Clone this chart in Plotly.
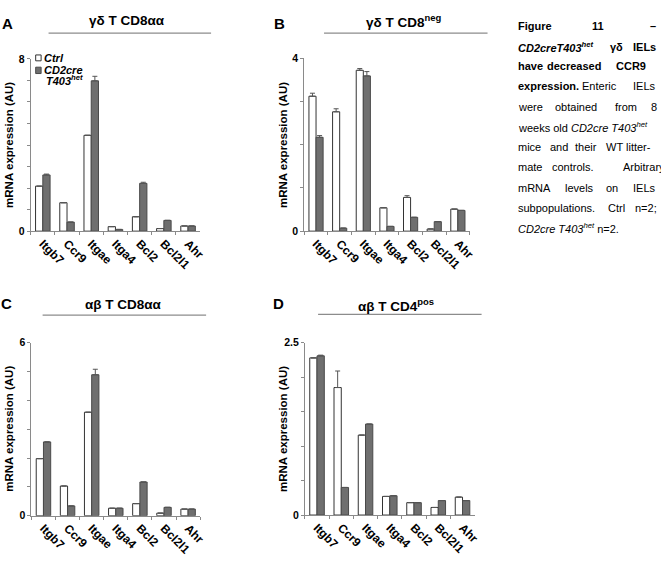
import plotly.graph_objects as go

genes = ["Itgb7", "Ccr9", "Itgae", "Itga4", "Bcl2", "Bcl2l1", "Ahr"]
series_names = ["Ctrl", "CD2cre T403het"]

# Panel A: γδ T CD8αα
A_ctrl = [2.09, 1.32, 4.45, 0.21, 0.67, 0.12, 0.24]
A_cd2 = [2.61, 0.42, 6.98, 0.08, 2.22, 0.50, 0.24]
A_ctrl_err = [0, 0, 0, 0, 0, 0, 0]
A_cd2_err = [0.04, 0, 0.21, 0, 0.05, 0, 0]

# Panel B: γδ T CD8neg
B_ctrl = [3.12, 2.76, 3.72, 0.54, 0.78, 0.05, 0.51]
B_cd2 = [2.17, 0.07, 3.59, 0.11, 0.32, 0.22, 0.48]
B_ctrl_err = [0.07, 0.07, 0.04, 0, 0.04, 0, 0]
B_cd2_err = [0.04, 0, 0.10, 0, 0, 0, 0]

# Panel C: αβ T CD8αα
C_ctrl = [1.98, 1.03, 3.59, 0.26, 0.42, 0.09, 0.23]
C_cd2 = [2.56, 0.34, 4.89, 0.26, 1.17, 0.29, 0.23]
C_ctrl_err = [0, 0, 0, 0, 0, 0, 0]
C_cd2_err = [0, 0, 0.19, 0, 0, 0, 0]

# Panel D: αβ T CD4pos
D_ctrl = [2.28, 1.85, 1.16, 0.27, 0.18, 0.11, 0.26]
D_cd2 = [2.31, 0.40, 1.32, 0.28, 0.18, 0.21, 0.21]
D_ctrl_err = [0, 0.24, 0, 0, 0, 0, 0]
D_cd2_err = [0.01, 0, 0, 0, 0, 0, 0]

panel_letters = ["A", "B", "C", "D"]
panel_titles = ["γδ T CD8αα", "γδ T CD8<sup>neg</sup>", "αβ T CD8αα", "αβ T CD4<sup>pos</sup>"]
y_max = [8, 4, 6, 2.5]
y_step = [1, 1, 1, 0.5]
y_max_label = ["8", "4", "6", "2.5"]
y_title = "mRNA expression (AU)"

W, H = 661, 569
FONT = "Liberation Sans, Arial, sans-serif"

# plot areas in pixels (x0, x1, ytop, ybottom)
areas = [(31, 202, 54, 230), (307, 474, 53.3, 230), (31.7, 202, 344, 520.7), (307.7, 479, 344, 520)]
title_pos = [(128, 15), (407, 15), (125, 305), (400, 305)]
line_pos = [(49, 213, 27.7), (327, 492, 27.7), (43, 208, 315.7), (321, 486, 315)]
letter_pos = [(7.5, 17.5), (282, 17.5), (6.5, 304), (281, 304)]

px = lambda x: x / W
py = lambda y: 1 - y / H

data = [
    (A_ctrl, A_cd2, A_ctrl_err, A_cd2_err),
    (B_ctrl, B_cd2, B_ctrl_err, B_cd2_err),
    (C_ctrl, C_cd2, C_ctrl_err, C_cd2_err),
    (D_ctrl, D_cd2, D_ctrl_err, D_cd2_err),
]

fig = go.Figure()
layout = dict(
    width=W, height=H, margin=dict(l=0, r=0, t=0, b=0),
    paper_bgcolor="white", plot_bgcolor="white",
    showlegend=False, barmode="group", bargap=0.4, bargroupgap=0,
    font=dict(family=FONT, color="black"),
)
annotations = []
shapes = []
axis_col = "#8a8a8a"

for i, (ctrl, cd2, ectrl, ecd2) in enumerate(data):
    n = i + 1
    xa = "x" if n == 1 else f"x{n}"
    ya = "y" if n == 1 else f"y{n}"
    fig.add_trace(go.Bar(
        x=genes, y=ctrl, name=series_names[0], xaxis=xa, yaxis=ya,
        marker=dict(color="white", line=dict(color="#333333", width=1)),
        error_y=dict(type="data", array=ectrl, arrayminus=[0] * len(ectrl), symmetric=False,
                     color="#555555", thickness=1, width=2.5),
    ))
    fig.add_trace(go.Bar(
        x=genes, y=cd2, name=series_names[1], xaxis=xa, yaxis=ya,
        marker=dict(color="#6f6f6f", line=dict(color="#4a4a4a", width=1)),
        error_y=dict(type="data", array=ecd2, arrayminus=[0] * len(ecd2), symmetric=False,
                     color="#555555", thickness=1, width=2.5),
    ))
    x0, x1, yt, yb = areas[i]
    nt = int(round(y_max[i] / y_step[i]))
    tv = [k * y_step[i] for k in range(nt + 1)]
    tt = [""] * len(tv)
    tt[0] = "0"
    tt[-1] = y_max_label[i]
    xkey = "xaxis" if n == 1 else f"xaxis{n}"
    ykey = "yaxis" if n == 1 else f"yaxis{n}"
    layout[xkey] = dict(
        domain=[px(x0), px(x1)], anchor=ya, type="category",
        range=[-0.5, 6.5], showline=True, linecolor=axis_col, linewidth=1,
        ticks="outside", tickson="boundaries", ticklen=3, tickcolor=axis_col,
        tickangle=45, showgrid=False, zeroline=False,
        tickfont=dict(family=FONT, size=12, color="black", weight="bold"),
    )
    layout[ykey] = dict(
        domain=[py(yb), py(yt)], anchor=xa, range=[0, y_max[i]],
        showline=True, linecolor=axis_col, linewidth=1,
        ticks="outside", ticklen=3, tickcolor=axis_col,
        tickvals=tv, ticktext=tt, showgrid=False, zeroline=False,
        tickfont=dict(family=FONT, size=10.5, color="black", weight="bold"),
    )
    # y axis title
    annotations.append(dict(
        text=f"<b>{y_title}</b>", xref="paper", yref="paper",
        x=px(x0 - 22), y=py((yt + yb) / 2), xanchor="center", yanchor="middle",
        textangle=-90, showarrow=False, font=dict(family=FONT, size=11.5, color="black"),
    ))
    # panel title
    tx, ty = title_pos[i]
    annotations.append(dict(
        text=f"<b>{panel_titles[i]}</b>", xref="paper", yref="paper",
        x=px(tx), y=py(ty), xanchor="center", yanchor="middle",
        showarrow=False, font=dict(family=FONT, size=13.5, color="black"),
    ))
    lx, ly = letter_pos[i]
    annotations.append(dict(
        text=f"<b>{panel_letters[i]}</b>", xref="paper", yref="paper",
        x=px(lx), y=py(ly), xanchor="center", yanchor="middle",
        showarrow=False, font=dict(family=FONT, size=15, color="black"),
    ))
    l0, l1, lyy = line_pos[i]
    shapes.append(dict(type="line", xref="paper", yref="paper",
                       x0=px(l0), x1=px(l1), y0=py(lyy), y1=py(lyy),
                       line=dict(color="#8c8c8c", width=1.3)))

# manual legend in panel A
shapes.append(dict(type="rect", xref="paper", yref="paper",
                   x0=px(36), x1=px(41.5), y0=py(56), y1=py(50),
                   fillcolor="white", line=dict(color="#333333", width=1)))
shapes.append(dict(type="rect", xref="paper", yref="paper",
                   x0=px(36), x1=px(41.5), y0=py(69), y1=py(62.5),
                   fillcolor="#6f6f6f", line=dict(color="#4a4a4a", width=1)))
annotations.append(dict(text="<b><i>Ctrl</i></b>", xref="paper", yref="paper",
                        x=px(42), y=py(53), xanchor="left", yanchor="middle", showarrow=False,
                        font=dict(family=FONT, size=11, color="black")))
annotations.append(dict(text="<b><i>CD2cre</i></b>", xref="paper", yref="paper",
                        x=px(42.5), y=py(65.5), xanchor="left", yanchor="middle", showarrow=False,
                        font=dict(family=FONT, size=11, color="black")))
annotations.append(dict(text="<b><i>T403<sup>het</sup></i></b>", xref="paper", yref="paper",
                        x=px(44), y=py(76), xanchor="left", yanchor="middle", showarrow=False,
                        font=dict(family=FONT, size=11, color="black")))

# caption (justified by word placement)
CX = 522
caption = [
    (20.7, [("<b>Figure</b>", CX), ("<b>11</b>", 596), ("<b>–</b>", 655)]),
    (41.5, [("<b><i>CD2creT403<sup>het</sup></i></b>", CX), ("<b>γδ</b>", 614.5), ("<b>IELs</b>", 637.5)]),
    (61.8, [("<b>have</b>", CX), ("<b>decreased</b>", 550.5), ("<b>CCR9</b>", 621)]),
    (82, [("<b>expression.</b>", CX), ("Enteric", 586), ("IELs", 637.5)]),
    (103.2, [("were", CX), ("obtained", 559.5), ("from", 619.5), ("8", 655.5)]),
    (123.8, [("weeks old <i>CD2cre T403<sup>het</sup></i>", CX)]),
    (144.2, [("mice", CX), ("and", 554.5), ("their", 579.5), ("WT", 611), ("litter-", 631)]),
    (164.6, [("mate", CX), ("controls.", 556), ("Arbitrary", 627.5)]),
    (186.3, [("mRNA", CX), ("levels", 569.5), ("on", 611), ("IELs", 637.5)]),
    (206.8, [("subpopulations.", CX), ("Ctrl", 612.5), ("n=2;", 639.5)]),
    (227, [("<i>CD2cre T403<sup>het</sup></i> n=2.", CX)]),
]
for yy, words in caption:
    for w, xx in words:
        annotations.append(dict(text=w, xref="paper", yref="paper",
                                x=px(xx), y=py(yy), xanchor="left", yanchor="middle",
                                showarrow=False, borderpad=0,
                                font=dict(family=FONT, size=11, color="black")))

layout["annotations"] = annotations
layout["shapes"] = shapes
fig.update_layout(**layout)
fig.write_html("out.html",
               config={"displayModeBar": False},
               post_script="document.body.style.margin='0';document.body.style.padding='0';")
